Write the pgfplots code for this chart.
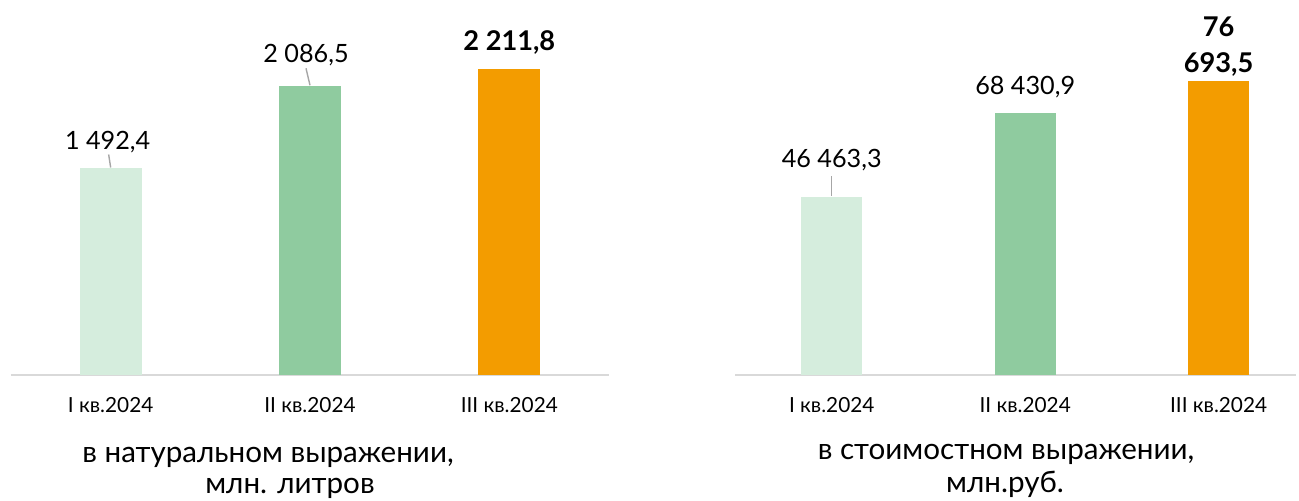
\documentclass[border=0pt]{standalone}
\usepackage{pgfplots}
\pgfplotsset{compat=1.18}
\usepackage{fontspec}
\setmainfont{Lato}
\definecolor{c1}{HTML}{D5EDDD}
\definecolor{c2}{HTML}{8FCB9F}
\definecolor{c3}{HTML}{F39C00}
\definecolor{axgray}{HTML}{D9D9D9}
\definecolor{lead}{HTML}{A6A6A6}
\newcommand{\vfont}{\fontsize{12.6}{18}\selectfont}
\newcommand{\bfont}{\fontsize{13.6}{18}\selectfont\bfseries}
\newcommand{\cfont}{\fontsize{10.4}{12}\selectfont}
\newcommand{\tfont}{\fontsize{14.8}{17}\selectfont}
\begin{document}
\begin{tikzpicture}
\useasboundingbox (0,0) rectangle (649.5pt,250pt);
\pgfplotsset{
  panel/.style={
    scale only axis, height=187.5pt, ymin=0,
    ybar, bar shift=0pt, clip=false,
    axis x line=bottom, axis y line=none,
    x axis line style={-, draw=axgray, line width=1pt},
    xtick={0,1,2}, xticklabels={I кв.2024, II кв.2024, III кв.2024},
    major tick length=0pt, xtick style={draw=none},
    xticklabel style={font=\cfont, inner sep=0pt, anchor=north, yshift=-11pt},
    point meta=explicit symbolic,
    every node near coord/.style={anchor=base, inner sep=0pt, font=\vfont, text=black},
  }
}
\begin{axis}[panel, at={(5.5pt,62.5pt)}, anchor=south west, width=299pt,
  xmin=-0.5, xmax=2.5, ymax=2710, bar width=31pt]
\addplot[fill=c1, draw=none, nodes near coords,
  every node near coord/.append style={xshift=-1.5pt, yshift=9.5pt}]
  coordinates {(0,1492.4) [1 492,4]};
\addplot[fill=c2, draw=none, nodes near coords,
  every node near coord/.append style={xshift=-2pt, yshift=12pt}]
  coordinates {(1,2086.5) [2 086,5]};
\addplot[fill=c3, draw=none, nodes near coords,
  every node near coord/.append style={yshift=9pt, font=\bfont}]
  coordinates {(2,2211.8) [2 211,8]};
\draw[lead, line width=0.7pt] (axis cs:0,1492.4) ++(0pt,0.5pt) -- ++(-1pt,6.5pt);
\draw[lead, line width=0.7pt] (axis cs:1,2086.5) ++(0pt,0.5pt) -- ++(-2pt,8.5pt);
\end{axis}
\begin{axis}[panel, at={(367.5pt,62.5pt)}, anchor=south west, width=280.5pt,
  xmin=-0.5, xmax=2.4, ymax=97810, bar width=30.5pt]
\addplot[fill=c1, draw=none, nodes near coords,
  every node near coord/.append style={yshift=14.5pt}]
  coordinates {(0,46463.3) [46 463,3]};
\addplot[fill=c2, draw=none, nodes near coords,
  every node near coord/.append style={yshift=9pt}]
  coordinates {(1,68430.9) [68 430,9]};
\addplot[fill=c3, draw=none, nodes near coords,
  every node near coord/.append style={anchor=south, align=center, yshift=2.3pt, font=\bfont}]
  coordinates {(2,76693.5) [76\\693,5]};
\draw[lead, line width=0.7pt] (axis cs:0,46463.3) ++(0pt,0.5pt) -- ++(0pt,10pt);
\end{axis}
\node[font=\tfont, anchor=base] at (134pt,19pt) {в натуральном выражении,};
\node[font=\tfont, anchor=base] at (145pt,3.5pt) {млн. литров};
\node[font=\tfont, anchor=base] at (503pt,20.5pt) {в стоимостном выражении,};
\node[font=\tfont, anchor=base] at (502.5pt,4pt) {млн.руб.};
\end{tikzpicture}
\end{document}
